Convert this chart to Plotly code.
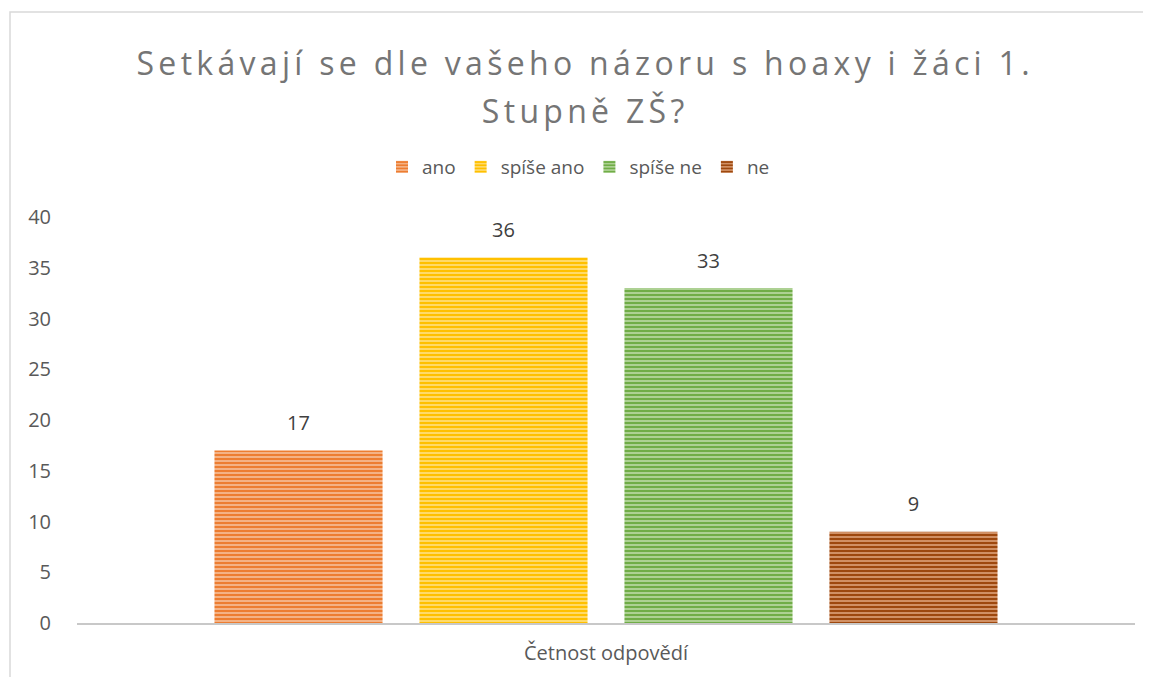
import plotly.graph_objects as go

category = ["Četnost odpovědí"]
series_names = ["ano", "spíše ano", "spíše ne", "ne"]
series_values = [17, 36, 33, 9]
fg_colors = ["#ED7D31", "#FFC000", "#70AD47", "#9E480E"]
bg_colors = ["#F7C3A0", "#FFE28A", "#C0DDAB", "#E2A77F"]
title_lines = ["Setkávají se dle vašeho názoru s hoaxy i žáci 1.", "Stupně ZŠ?"]
y_ticks = [0, 5, 10, 15, 20, 25, 30, 35, 40]

FONT = "Open Sans, Liberation Sans, sans-serif"
# page body has an 8px margin, so the figure is drawn 8px smaller
W, H = 1143, 669
L, R, T, B = 69, 16, 209, 54

fig = go.Figure()
for name, val, fg, bg in zip(series_names, series_values, fg_colors, bg_colors):
    fig.add_trace(go.Bar(
        x=category, y=[val], name=name,
        marker=dict(color=fg, line=dict(width=0),
                    pattern=dict(shape="-", fgcolor=fg, bgcolor=bg, size=4,
                                 solidity=0.62, fillmode="replace")),
        text=[str(val)], textposition="outside",
        texttemplate="<span style='font-size:20px'>%{y}</span><br>&nbsp;",
        textfont=dict(family=FONT, size=11, color="#404040"),
        cliponaxis=False,
    ))

pw = W - L - R
ph = H - T - B
def px_x(p):
    return (p - L) / pw
def px_y(p):
    return (H - B - p) / ph

fig.add_shape(type="rect", xref="paper", yref="paper",
              x0=px_x(2), x1=px_x(1200), y0=px_y(4), y1=px_y(720),
              line=dict(color="#D9D9D9", width=1.5), fillcolor="rgba(0,0,0,0)", layer="below")

sp = '<span style="letter-spacing:4.3px;font-size:32px">'
title_html = "<br>".join(sp + t + "</span>" for t in title_lines)

fig.update_layout(
    width=W, height=H,
    margin=dict(l=L, r=R, t=T, b=B),
    paper_bgcolor="white", plot_bgcolor="white",
    barmode="group", bargap=0.225, bargroupgap=0.18,
    title=dict(text=title_html,
               x=0.505, xref="container", xanchor="center",
               y=1 - 67 / H, yref="container", yanchor="top",
               font=dict(family=FONT, size=37, color="#757575")),
    legend=dict(orientation="h", x=0.474, xanchor="center", y=px_y(159), yanchor="middle",
                font=dict(family=FONT, size=19, color="#595959"),
                itemwidth=30, traceorder="normal"),
    showlegend=True,
    xaxis=dict(showline=True, linecolor="#C8C8C8", linewidth=2, showgrid=False,
               ticks="", ticklabelstandoff=11,
               tickfont=dict(family=FONT, size=20, color="#595959"), fixedrange=True),
    yaxis=dict(range=[0, 40], tickvals=y_ticks, showgrid=False, zeroline=False,
               showline=False, ticks="", ticklabelstandoff=25,
               tickfont=dict(family=FONT, size=20, color="#595959")),
)

fig.write_html("out.html")
